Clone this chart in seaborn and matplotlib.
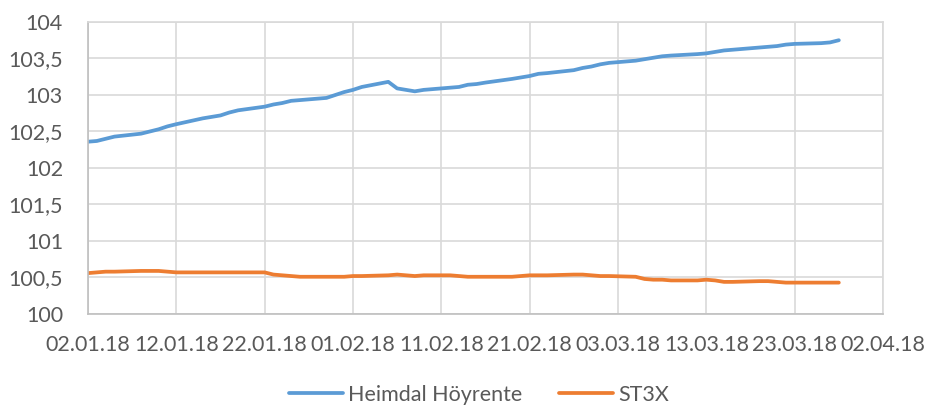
import pandas as pd
import matplotlib
matplotlib.use("Agg")
import matplotlib.pyplot as plt
import matplotlib.dates as mdates
import matplotlib.ticker as mticker
import seaborn as sns

# trading days 02.01.18 - 28.03.18
dates = pd.bdate_range("2018-01-02", "2018-03-28")

heimdal = [102.36, 102.37, 102.40, 102.43, 102.47, 102.50, 102.53, 102.57, 102.60,
           102.68, 102.70, 102.72, 102.76, 102.79, 102.84, 102.87, 102.89, 102.92,
           102.93, 102.96, 103.00, 103.04, 103.07, 103.11, 103.18, 103.09, 103.07,
           103.05, 103.07, 103.10, 103.11, 103.14, 103.15, 103.17, 103.22, 103.24,
           103.26, 103.29, 103.30, 103.34, 103.37, 103.39, 103.42, 103.44, 103.47,
           103.49, 103.51, 103.53, 103.54, 103.56, 103.57, 103.59, 103.61, 103.62,
           103.65, 103.66, 103.67, 103.69, 103.70, 103.71, 103.72, 103.75]

st3x = [100.56, 100.57, 100.58, 100.58, 100.59, 100.59, 100.59, 100.58, 100.57,
        100.57, 100.57, 100.57, 100.57, 100.57, 100.57, 100.54, 100.53, 100.52,
        100.51, 100.51, 100.51, 100.51, 100.52, 100.52, 100.53, 100.54, 100.53,
        100.52, 100.53, 100.53, 100.52, 100.51, 100.51, 100.51, 100.51, 100.52,
        100.53, 100.53, 100.53, 100.54, 100.54, 100.53, 100.52, 100.52, 100.51,
        100.48, 100.47, 100.47, 100.46, 100.46, 100.47, 100.46, 100.44, 100.44,
        100.45, 100.45, 100.44, 100.43, 100.43, 100.43, 100.43, 100.43]

series_names = ["Heimdal Höyrente", "ST3X"]
colors = ["#5B9BD5", "#ED7D31"]

df = pd.concat([
    pd.DataFrame({"date": dates, "value": heimdal, "series": series_names[0]}),
    pd.DataFrame({"date": dates, "value": st3x, "series": series_names[1]}),
])

sns.set_theme(style="white")
plt.rcParams['font.family'] = ['Lato', 'DejaVu Sans']

fig = plt.figure(figsize=(9.28, 4.07), dpi=100)
ax = fig.add_axes([0.0948, 0.2285, 0.8567, 0.7175])

sns.lineplot(data=df, x="date", y="value", hue="series", palette=colors,
             linewidth=2.7, ax=ax, legend=False)

grey = "#595959"
gridc = "#D9D9D9"
fs = 15.5

ax.set_xlim(pd.Timestamp("2018-01-02"), pd.Timestamp("2018-04-02"))
ax.set_ylim(100, 104)
ticks = pd.date_range("2018-01-02", "2018-04-02", freq="10D")
ax.set_xticks(ticks)
ax.xaxis.set_major_formatter(mdates.DateFormatter("%d.%m.%y"))
ax.yaxis.set_major_locator(mticker.MultipleLocator(0.5))
ax.yaxis.set_major_formatter(mticker.FuncFormatter(
    lambda v, p: ("%g" % v).replace(".", ",")))

ax.grid(True, color=gridc, linewidth=1.2)
ax.set_axisbelow(True)
for s in ax.spines.values():
    s.set_color(gridc)
    s.set_linewidth(1.2)
ax.spines["left"].set_color("#BFBFBF")
ax.spines["bottom"].set_color("#BFBFBF")

ax.tick_params(axis="x", length=0, pad=15, labelsize=fs, labelcolor=grey)
ax.tick_params(axis="y", length=0, pad=18, labelsize=fs, labelcolor=grey)
ax.set_xlabel("")
ax.set_ylabel("")

handles = [plt.Line2D([], [], color=c, linewidth=2.7) for c in colors]
leg = fig.legend(handles, series_names, loc="center", bbox_to_anchor=(0.516, 0.03),
                 ncol=2, frameon=False, fontsize=fs, handlelength=2.5,
                 columnspacing=1.7, handletextpad=0.25)
for t in leg.get_texts():
    t.set_color(grey)

fig.savefig("out.png", dpi=100)
